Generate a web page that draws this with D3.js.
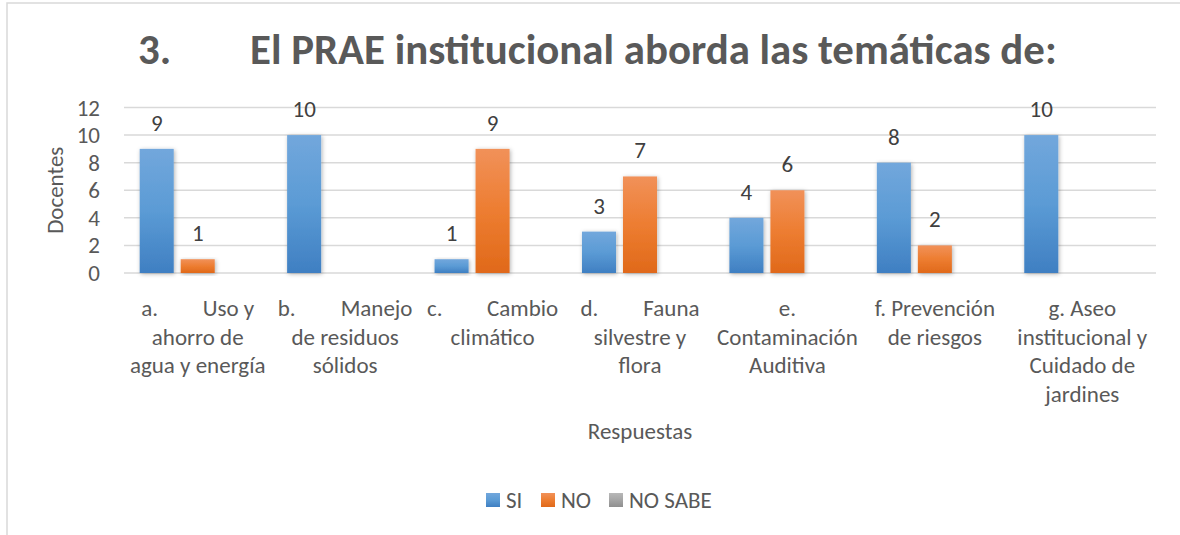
<!DOCTYPE html>
<html>
<head>
<meta charset="utf-8">
<script src="https://cdn.jsdelivr.net/npm/d3@7"></script>
<style>
  body { margin: 0; background: #fff; }
  svg text { font-family: Carlito, Calibri, Lato, sans-serif; }
</style>
</head>
<body>
<svg width="1180" height="535"></svg>
<script>
// chart values
var categoryLines = [
    ["a.", "Uso y", "ahorro de", "agua y energía"],
    ["b.", "Manejo", "de residuos", "sólidos"],
    ["c.", "Cambio", "climático"],
    ["d.", "Fauna", "silvestre y", "flora"],
    ["e.", "Contaminación", "Auditiva"],
    ["f. Prevención", "de riesgos"],
    ["g. Aseo", "institucional y", "Cuidado de", "jardines"]
];
// categories whose first line is "letter<TAB>word"
var tabbed = [true, true, true, true, false, false, false];
var seriesNames = ["SI", "NO", "NO SABE"];
var siValues = [9, 10, 1, 3, 4, 8, 10];
var noValues = [1, 0, 9, 7, 6, 2, 0];
var noSabeValues = [0, 0, 0, 0, 0, 0, 0];
var yTicks = [0, 2, 4, 6, 8, 10, 12];
var titleNumber = "3.";
var titleText = "El PRAE institucional aborda las temáticas de:";
var yTitle = "Docentes";
var xTitle = "Respuestas";

var series = [siValues, noValues, noSabeValues];
var colors = {
    "SI": ["#72a7dc", "#5b9bd5", "#3f7fc2"],
    "NO": ["#f19159", "#ed7d31", "#e0691a"],
    "NO SABE": ["#b8b8b8", "#a5a5a5", "#8f8f8f"]
};

var svg = d3.select("svg");
var textGrey = "#595959";

// chart frame (only left and top edges are inside the picture)
svg.append("rect")
    .attr("x", 7).attr("y", 3)
    .attr("width", 1300).attr("height", 700)
    .style("fill", "none")
    .style("stroke", "#d9d9d9")
    .style("stroke-width", 1.5);

var defs = svg.append("defs");
seriesNames.forEach(function (name, i) {
    var g = defs.append("linearGradient")
        .attr("id", "grad" + i)
        .attr("x1", 0).attr("y1", 0).attr("x2", 0).attr("y2", 1);
    g.append("stop").attr("offset", "0%").attr("stop-color", colors[name][0]);
    g.append("stop").attr("offset", "50%").attr("stop-color", colors[name][1]);
    g.append("stop").attr("offset", "100%").attr("stop-color", colors[name][2]);
});
defs.append("filter")
    .attr("id", "shadow")
    .attr("x", "-30%").attr("y", "-10%").attr("width", "160%").attr("height", "130%")
    .append("feDropShadow")
    .attr("dx", 1).attr("dy", 1)
    .attr("stdDeviation", 2)
    .attr("flood-color", "#000")
    .attr("flood-opacity", 0.3);

var x0 = d3.scaleBand()
    .domain(d3.range(categoryLines.length))
    .range([124, 1156])
    .paddingInner(0.213)
    .paddingOuter(0.1065);

var x1 = d3.scaleBand()
    .domain(d3.range(seriesNames.length))
    .range([0, x0.bandwidth()])
    .paddingInner(0.17)
    .paddingOuter(0);

var y = d3.scaleLinear()
    .domain([0, 12])
    .range([273, 107.5]);

// gridlines
svg.append("g")
    .selectAll("line")
    .data(yTicks)
    .enter().append("line")
    .attr("x1", 124).attr("x2", 1156)
    .attr("y1", function (d) { return y(d); })
    .attr("y2", function (d) { return y(d); })
    .style("stroke", "#d9d9d9")
    .style("stroke-width", 1.5);

// y tick labels
svg.append("g")
    .selectAll("text")
    .data(yTicks)
    .enter().append("text")
    .attr("x", 100)
    .attr("y", function (d) { return y(d) + 8; })
    .attr("text-anchor", "end")
    .style("font-size", "23px")
    .style("fill", textGrey)
    .text(function (d) { return d; });

// bars
var barData = [];
categoryLines.forEach(function (c, ci) {
    series.forEach(function (vals, si) {
        barData.push({ cat: ci, s: si, v: vals[ci] });
    });
});

svg.append("g")
    .selectAll("rect")
    .data(barData.filter(function (d) { return d.v > 0; }))
    .enter().append("rect")
    .attr("x", function (d) { return x0(d.cat) + x1(d.s); })
    .attr("y", function (d) { return y(d.v); })
    .attr("width", x1.bandwidth())
    .attr("height", function (d) { return y(0) - y(d.v); })
    .style("fill", function (d) { return "url(#grad" + d.s + ")"; })
    .style("filter", "url(#shadow)");

// data labels
svg.append("g")
    .selectAll("text")
    .data(barData.filter(function (d) { return d.v > 0; }))
    .enter().append("text")
    .attr("x", function (d) { return x0(d.cat) + x1(d.s) + x1.bandwidth() / 2; })
    .attr("y", function (d) { return y(d.v) - 18; })
    .attr("text-anchor", "middle")
    .style("font-size", "23px")
    .style("fill", "#404040")
    .text(function (d) { return d.v; });

// category labels
var catG = svg.append("g");
categoryLines.forEach(function (lines, ci) {
    var cx = x0(ci) + x0.bandwidth() / 2;
    var rows = lines.slice();
    var t = catG.append("text")
        .attr("text-anchor", "middle")
        .style("font-size", "23px")
        .style("fill", textGrey);
    var row = 0;
    if (tabbed[ci]) {
        var first = t.append("tspan").attr("x", cx).attr("y", 316);
        first.append("tspan").text(rows[0]);
        first.append("tspan").attr("dx", 45).text(rows[1]);
        rows = rows.slice(2);
        row = 1;
    }
    rows.forEach(function (line) {
        t.append("tspan")
            .attr("x", cx)
            .attr("y", 316 + row * 28.7)
            .text(line);
        row++;
    });
});

// axis titles
svg.append("text")
    .attr("transform", "translate(63," + ((y(0) + y(12)) / 2) + ") rotate(-90)")
    .attr("text-anchor", "middle")
    .style("font-size", "23px")
    .style("fill", textGrey)
    .text(yTitle);

svg.append("text")
    .attr("x", 640)
    .attr("y", 439)
    .attr("text-anchor", "middle")
    .style("font-size", "23px")
    .style("fill", textGrey)
    .text(xTitle);

// title
var tNum = svg.append("text")
    .attr("x", 138).attr("y", 64)
    .style("font-weight", "bold")
    .style("font-size", "38px")
    .style("fill", textGrey)
    .text(titleNumber);
var tMain = svg.append("text")
    .attr("x", 250).attr("y", 64)
    .style("font-weight", "bold")
    .style("font-size", "38px")
    .style("fill", textGrey)
    .text(titleText);
// fit title to the width seen in the reference
var w = tMain.node().getComputedTextLength();
var fs = 38 * 807 / w;
tMain.style("font-size", fs + "px");
tNum.style("font-size", fs + "px");

// legend
var legendX = [486, 541, 609];
var legend = svg.append("g")
    .selectAll("g")
    .data(seriesNames)
    .enter().append("g")
    .attr("transform", function (d, i) { return "translate(" + legendX[i] + ",493)"; });
legend.append("rect")
    .attr("width", 14).attr("height", 14)
    .style("fill", function (d, i) { return "url(#grad" + i + ")"; });
legend.append("text")
    .attr("x", 20)
    .attr("y", 15)
    .style("font-size", "23px")
    .style("fill", textGrey)
    .text(function (d) { return d; });
</script>
</body>
</html>
